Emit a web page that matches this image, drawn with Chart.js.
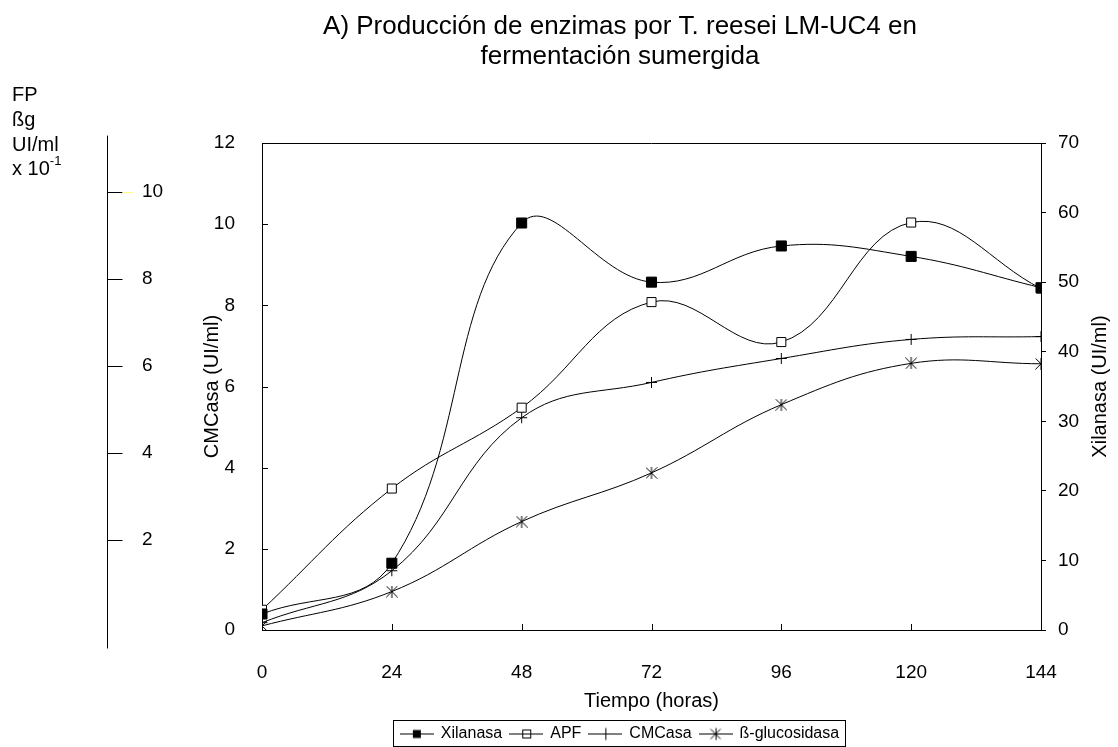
<!DOCTYPE html>
<html lang="es">
<head>
<meta charset="UTF-8">
<title>Producción de enzimas por T. reesei LM-UC4</title>
<script src="https://cdn.jsdelivr.net/npm/chart.js"></script>
<style>
  html, body { margin: 0; padding: 0; background: #fff; }
</style>
</head>
<body>
<canvas id="chart" width="1118" height="747"></canvas>

<script>
// tiempo de fermentación (horas)
const horas = [0, 24, 48, 72, 96, 120, 144];
// Xilanasa, eje derecho (UI/ml)
const xilanasa = [2.3, 9.6, 58.5, 50.0, 55.2, 53.7, 49.2];
// APF y ß-glucosidasa, eje FP / ßg (UI/ml x 10^-1)
const apf = [0.39, 3.18, 5.04, 7.47, 6.55, 9.30, 7.78];
const bGlucosidasa = [0.02, 0.81, 2.42, 3.54, 5.11, 6.06, 6.05];
// CMCasa, eje izquierdo (UI/ml)
const cmcasa = [0.18, 1.46, 5.23, 6.10, 6.69, 7.16, 7.23];
// marcas del eje FP / ßg
const fpTicks = [2, 4, 6, 8, 10];

const FONT = '"Liberation Sans", Arial, sans-serif';
Chart.defaults.font.family = FONT;
Chart.defaults.color = '#000';

function pts(values) {
  return horas.map((h, i) => ({ x: h, y: values[i] }));
}

// asterisco de 6 brazos para ß-glucosidasa
function asterisk(size) {
  const c = document.createElement('canvas');
  c.width = size; c.height = size;
  const g = c.getContext('2d');
  g.strokeStyle = '#000';
  g.lineWidth = 1;
  g.beginPath();
  g.moveTo(0.5, 0.5); g.lineTo(size - 0.5, size - 0.5);
  g.moveTo(size - 0.5, 0.5); g.lineTo(0.5, size - 0.5);
  g.moveTo(size / 2, 0); g.lineTo(size / 2, size);
  g.stroke();
  return c;
}

function legendIcon(kind) {
  const c = document.createElement('canvas');
  c.width = 34; c.height = 15;
  const g = c.getContext('2d');
  const cx = 17, cy = 7.5;
  g.strokeStyle = '#000';
  g.fillStyle = '#000';
  g.lineWidth = 1;
  g.beginPath(); g.moveTo(0, cy); g.lineTo(34, cy); g.stroke();
  if (kind === 'filled') {
    g.fillRect(cx - 4, cy - 4, 8, 8);
  } else if (kind === 'open') {
    g.strokeRect(cx - 3.5, cy - 4, 8, 8);
  } else if (kind === 'cross') {
    g.beginPath(); g.moveTo(cx + 0.5, cy - 6); g.lineTo(cx + 0.5, cy + 6); g.stroke();
  } else if (kind === 'star') {
    g.beginPath();
    g.moveTo(cx - 5, cy - 5); g.lineTo(cx + 5, cy + 5);
    g.moveTo(cx + 5, cy - 5); g.lineTo(cx - 5, cy + 5);
    g.moveTo(cx + 0.5, cy - 6); g.lineTo(cx + 0.5, cy + 6);
    g.stroke();
  }
  return c;
}

const starPoint = asterisk(12);
const legendItems = [
  { text: 'Xilanasa', icon: legendIcon('filled') },
  { text: 'APF', icon: legendIcon('open') },
  { text: 'CMCasa', icon: legendIcon('cross') },
  { text: 'ß-glucosidasa', icon: legendIcon('star') }
];

const extras = {
  id: 'extras',
  beforeDatasetsDraw(chart) {
    const { ctx, chartArea: a, scales } = chart;
    ctx.save();
    ctx.strokeStyle = '#000';
    ctx.lineWidth = 1;
    ctx.beginPath();
    ctx.moveTo(a.left, Math.round(a.top) + 0.5);
    ctx.lineTo(a.right, Math.round(a.top) + 0.5);
    // marcas interiores de los ejes izquierdo e inferior
    scales.y.ticks.forEach(t => {
      const y = Math.round(scales.y.getPixelForValue(t.value)) + 0.5;
      ctx.moveTo(a.left, y); ctx.lineTo(a.left + 6, y);
    });
    scales.x.ticks.forEach(t => {
      const x = Math.round(scales.x.getPixelForValue(t.value)) + 0.5;
      ctx.moveTo(x, a.bottom); ctx.lineTo(x, a.bottom - 6);
    });
    ctx.stroke();
    ctx.restore();
  },
  afterDraw(chart) {
    const { ctx, chartArea: a } = chart;
    const s = chart.scales.yFP;
    const ax = 107.5;
    ctx.save();
    ctx.strokeStyle = '#000';
    ctx.lineWidth = 1;
    ctx.beginPath();
    ctx.moveTo(ax, s.getPixelForValue(11.3));
    ctx.lineTo(ax, s.getPixelForValue(-0.5));
    fpTicks.forEach(v => {
      const y = Math.round(s.getPixelForValue(v)) + 0.5;
      ctx.moveTo(ax, y); ctx.lineTo(ax + 15, y);
    });
    ctx.stroke();
    const y10 = Math.round(s.getPixelForValue(10)) + 0.5;
    ctx.strokeStyle = '#ffff80';
    ctx.beginPath(); ctx.moveTo(ax + 15, y10); ctx.lineTo(ax + 26, y10); ctx.stroke();

    ctx.fillStyle = '#000';
    ctx.textBaseline = 'middle';
    ctx.textAlign = 'left';
    ctx.font = '19px ' + FONT;
    fpTicks.forEach(v => ctx.fillText(String(v), 142, s.getPixelForValue(v)));

    ctx.font = '20px ' + FONT;
    ctx.fillText('FP', 12, 95);
    ctx.fillText('ßg', 12, 120);
    ctx.fillText('UI/ml', 12, 145);
    ctx.fillText('x 10', 12, 169);
    const w = ctx.measureText('x 10').width;
    ctx.font = '13px ' + FONT;
    ctx.fillText('-1', 12 + w, 161);

    // título del eje derecho, leído de abajo arriba
    ctx.save();
    ctx.translate(1100, (a.top + a.bottom) / 2);
    ctx.rotate(-Math.PI / 2);
    ctx.textAlign = 'center';
    ctx.font = '20px ' + FONT;
    ctx.fillText('Xilanasa (UI/ml)', 0, 0);
    ctx.restore();

    // marco de la leyenda
    const boxes = chart.legend.legendHitBoxes;
    if (boxes && boxes.length) {
      const left = Math.min(...boxes.map(b => b.left)) - 8;
      const right = Math.max(...boxes.map(b => b.left + b.width)) + 6;
      const mid = boxes[0].top + boxes[0].height / 2;
      ctx.strokeStyle = '#000';
      ctx.strokeRect(Math.round(left) + 0.5, Math.round(mid - 14) + 0.5,
                     Math.round(right - left), 26);
    }
    ctx.restore();
  }
};

const lineStyle = { borderColor: '#000', borderWidth: 1, tension: 0.4, fill: false };

new Chart(document.getElementById('chart'), {
  type: 'line',
  data: {
    datasets: [
      Object.assign({
        label: 'Xilanasa', data: pts(xilanasa), yAxisID: 'y2',
        pointStyle: 'rect', pointRadius: 7.1, pointBorderWidth: 1,
        pointBackgroundColor: '#000', pointBorderColor: '#000'
      }, lineStyle),
      Object.assign({
        label: 'APF', data: pts(apf), yAxisID: 'yFP',
        pointStyle: 'rect', pointRadius: 6.4, pointBorderWidth: 1,
        pointBackgroundColor: '#fff', pointBorderColor: '#000'
      }, lineStyle),
      Object.assign({
        label: 'CMCasa', data: pts(cmcasa), yAxisID: 'y',
        pointStyle: 'cross', pointRadius: 5.5, pointBorderWidth: 1,
        pointBorderColor: '#000'
      }, lineStyle),
      Object.assign({
        label: 'ß-glucosidasa', data: pts(bGlucosidasa), yAxisID: 'yFP',
        pointStyle: starPoint, pointRadius: 6
      }, lineStyle)
    ]
  },
  options: {
    responsive: false,
    animation: false,
    layout: { padding: { left: 122, right: 0, top: 0, bottom: -5 } },
    plugins: {
      tooltip: { enabled: false },
      title: {
        display: true,
        text: ['A) Producción de enzimas por T. reesei LM-UC4 en', 'fermentación sumergida'],
        color: '#000',
        font: { size: 26, weight: 'normal', lineHeight: 30 / 26 },
        padding: { top: 12, bottom: 71 }
      },
      legend: {
        position: 'bottom',
        labels: {
          usePointStyle: true,
          pointStyleWidth: 32,
          padding: 8,
          color: '#000',
          font: { size: 16 },
          generateLabels: () => legendItems.map((it, i) => ({
            text: it.text, pointStyle: it.icon, datasetIndex: i,
            fillStyle: '#000', strokeStyle: '#000', lineWidth: 1, hidden: false
          }))
        }
      }
    },
    scales: {
      x: {
        type: 'linear', min: 0, max: 144,
        ticks: { stepSize: 24, padding: 23, font: { size: 19 }, color: '#000' },
        grid: { display: false },
        border: { display: true, color: '#000', width: 1 },
        title: { display: true, text: 'Tiempo (horas)', font: { size: 20 }, color: '#000', padding: { top: 0, bottom: 5 } },
        afterFit: s => { s.height = 88; }
      },
      y: {
        position: 'left', min: 0, max: 12,
        ticks: { stepSize: 2, padding: 19, font: { size: 19 }, color: '#000' },
        grid: { display: false },
        border: { display: true, color: '#000', width: 1 },
        title: { display: true, text: 'CMCasa (UI/ml)', font: { size: 20 }, color: '#000', padding: { top: 78, bottom: 0 } },
        afterFit: s => { s.width = 140; }
      },
      yFP: {
        position: 'left', min: -0.075, max: 11.13, display: false
      },
      y2: {
        position: 'right', min: 0, max: 70,
        ticks: { stepSize: 10, padding: 12, font: { size: 19 }, color: '#000' },
        grid: { display: true, drawOnChartArea: false, drawTicks: true, tickLength: 5, color: '#000' },
        border: { display: true, color: '#000', width: 1 },
        title: { display: false },
        afterFit: s => { s.width = 77; }
      }
    }
  },
  plugins: [extras]
});
</script>
</body>
</html>
